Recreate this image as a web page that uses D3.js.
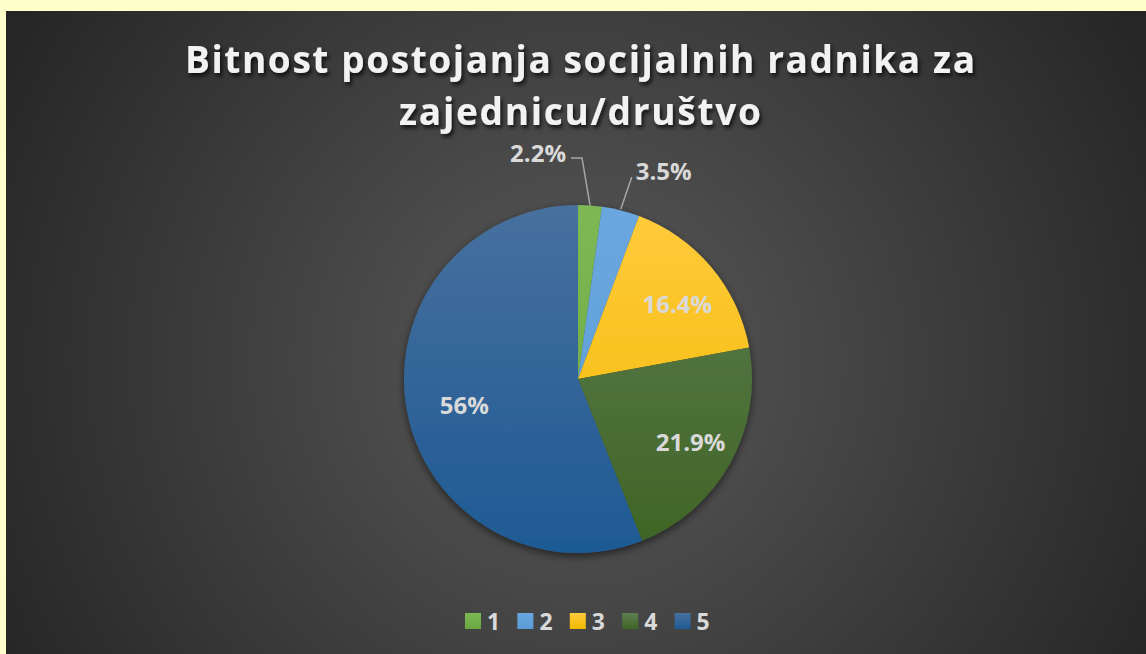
<!DOCTYPE html>
<html><head><meta charset="utf-8">
<script src="https://cdn.jsdelivr.net/npm/d3@7"></script>
<style>html,body{margin:0;padding:0;background:#FFFFCC;}svg{display:block;}</style>
</head><body>
<svg id="chart" width="1146" height="654"></svg>
<script>
const categories = ["1", "2", "3", "4", "5"];
const values = [2.2, 3.5, 16.4, 21.9, 56];
const labels = ["2.2%", "3.5%", "16.4%", "21.9%", "56%"];
const baseColors = ["#6AA83F", "#5B9BD5", "#F2B800", "#3F6424", "#1E5A94"];
const topColors = ["#7DB854", "#6AA7DF", "#FFCB3C", "#5E7E52", "#47709E"];
const titleLines = ["Bitnost postojanja socijalnih radnika za", "zajednicu/društvo"];

const W = 1146, H = 654;
const svg = d3.select("#chart");
const defs = svg.append("defs");

// background
const bg = defs.append("radialGradient").attr("id", "bg")
  .attr("gradientUnits", "userSpaceOnUse").attr("cx", 578).attr("cy", 360).attr("r", 650);
bg.append("stop").attr("offset", "0%").attr("stop-color", "#5A5A5A");
bg.append("stop").attr("offset", "100%").attr("stop-color", "#262626");
svg.append("rect").attr("x", 6).attr("y", 11).attr("width", W - 6).attr("height", H - 11).attr("fill", "url(#bg)");

// filters
const sh = defs.append("filter").attr("id", "pieShadow").attr("x", "-20%").attr("y", "-20%").attr("width", "140%").attr("height", "140%");
sh.append("feDropShadow").attr("dx", 0).attr("dy", 3).attr("stdDeviation", 4).attr("flood-color", "#000").attr("flood-opacity", 0.55);
const tsh = defs.append("filter").attr("id", "txtShadow").attr("x", "-10%").attr("y", "-30%").attr("width", "120%").attr("height", "160%");
tsh.append("feDropShadow").attr("dx", 2).attr("dy", 3).attr("stdDeviation", 2).attr("flood-color", "#000").attr("flood-opacity", 0.75);

// title
const title = svg.append("g").attr("filter", "url(#txtShadow)");
const titleWidths = [790, 362];
titleLines.forEach((t, i) => {
  title.append("text").attr("x", 580).attr("y", 73 + i * 52)
    .attr("text-anchor", "middle")
    .attr("font-family", "'Open Sans', sans-serif").attr("font-weight", "bold")
    .attr("font-size", 37).attr("fill", "#F2F2F2")
    .attr("textLength", titleWidths[i]).attr("lengthAdjust", "spacing")
    .text(t);
});

// pie
const cx = 578, cy = 379, R = 174;
const pie = d3.pie().sort(null).value(d => d)(values);
const arc = d3.arc().innerRadius(0).outerRadius(R);
categories.forEach((c, i) => {
  const g = defs.append("linearGradient").attr("id", "sl" + i)
    .attr("gradientUnits", "userSpaceOnUse").attr("x1", 0).attr("y1", -R).attr("x2", 0).attr("y2", R);
  g.append("stop").attr("offset", "0%").attr("stop-color", topColors[i]);
  g.append("stop").attr("offset", "100%").attr("stop-color", baseColors[i]);
});
const pg = svg.append("g").attr("transform", `translate(${cx},${cy})`);
pg.append("g").attr("filter", "url(#pieShadow)")
  .selectAll("path").data(pie).join("path")
  .attr("d", arc)
  .attr("fill", (d, i) => `url(#sl${i})`)
  .attr("stroke", "none");

const labelFont = "'Open Sans', sans-serif";
const midA = d => (d.startAngle + d.endAngle) / 2;
pie.forEach((d, i) => {
  const a = midA(d);
  if (values[i] > 10) {
    const rr = R * 0.70;
    pg.append("text").attr("x", Math.sin(a) * rr + 6).attr("y", -Math.cos(a) * rr + 3)
      .attr("text-anchor", "middle").attr("dominant-baseline", "central")
      .attr("font-family", labelFont).attr("font-weight", "bold").attr("font-size", 24)
      .attr("fill", "#D9D9D9").text(labels[i]);
  } else {
    const p0 = [Math.sin(a) * R, -Math.cos(a) * R];
    const left = i === 0;
    let pts, tx, ty, anchor;
    if (left) {
      const p1 = [p0[0] - 8, -R - 47];
      const p2 = [p1[0] - 11, p1[1]];
      pts = [p0, p1, p2]; tx = p2[0] - 5; ty = p1[1] - 6; anchor = "end";
    } else {
      const p1 = [p0[0] + 11, -R - 28];
      pts = [[p0[0], p0[1] - 1], p1]; tx = p1[0] + 4; ty = p1[1] - 7; anchor = "start";
    }
    pg.append("path").attr("d", d3.line()(pts)).attr("fill", "none")
      .attr("stroke", "#A6A6A6").attr("stroke-width", 1.5);
    pg.append("text").attr("x", tx).attr("y", ty)
      .attr("text-anchor", anchor).attr("dominant-baseline", "central")
      .attr("font-family", labelFont).attr("font-weight", "bold").attr("font-size", 24)
      .attr("fill", "#D9D9D9").text(labels[i]);
  }
});

// legend
const lx = d3.scaleBand().domain(categories).range([465, 727]).paddingInner(0);
const lg = svg.append("g");
categories.forEach((c, i) => {
  const x = lx(c);
  const g = defs.append("linearGradient").attr("id", "lg" + i).attr("x1", 0).attr("y1", 0).attr("x2", 0).attr("y2", 1);
  g.append("stop").attr("offset", "0%").attr("stop-color", topColors[i]);
  g.append("stop").attr("offset", "100%").attr("stop-color", baseColors[i]);
  lg.append("rect").attr("x", x).attr("y", 613).attr("width", 16).attr("height", 16)
    .attr("fill", `url(#lg${i})`);
  lg.append("text").attr("x", x + 22).attr("y", 621).attr("dominant-baseline", "central")
    .attr("font-family", labelFont).attr("font-weight", "bold").attr("font-size", 23)
    .attr("fill", "#D9D9D9").text(c);
});
</script>
</body></html>
